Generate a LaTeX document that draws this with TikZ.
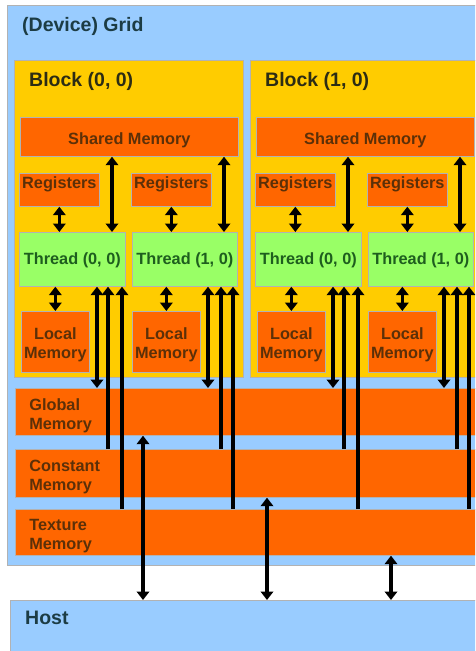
\documentclass[tikz,border=0pt]{standalone}
\usepackage{fontspec}
\setmainfont{Liberation Sans}
\usetikzlibrary{arrows.meta}

\definecolor{gridblue}{HTML}{99CCFF}
\definecolor{blockgold}{HTML}{FFCC00}
\definecolor{memorange}{HTML}{FF6600}
\definecolor{threadgreen}{HTML}{99FF66}
\definecolor{slateink}{HTML}{1C3C44}
\definecolor{blockink}{HTML}{2C2C14}
\definecolor{memink}{HTML}{5C3008}
\definecolor{threadink}{HTML}{1E5E1E}

\newcommand\TitleFont{\fontsize{19.5}{22}\selectfont\bfseries}
\newcommand\BoxFont{\fontsize{16.3}{19}\selectfont\bfseries}

\tikzset{
  panel/.style={draw=black!30, line width=0.7pt, inner sep=0pt, anchor=north west},
  gridpanel/.style={panel, fill=gridblue},
  blockpanel/.style={panel, fill=blockgold},
  membox/.style={panel, fill=memorange, font=\BoxFont, text=memink, align=center},
  sharedbox/.style={membox, minimum width=218pt, minimum height=39pt, text height=20pt, text depth=4pt},
  regbox/.style={membox, minimum width=80pt, minimum height=33pt, text height=12pt, text depth=14pt},
  localbox/.style={membox, text width=68pt, minimum height=61pt, text height=12pt, text depth=17pt},
  rowbox/.style={membox, align=left, inner xsep=14pt, text width=442pt, text height=12pt, text depth=15.5pt},
  threadbox/.style={panel, fill=threadgreen, font=\BoxFont, text=threadink, minimum height=54pt, text height=14pt, text depth=3.4pt},
  title/.style={anchor=base west, inner sep=0pt, font=\TitleFont},
  >={Triangle[width=12.5pt,length=8.5pt]},
  wire/.style={line width=3.2pt, ->},
  both/.style={line width=3.2pt, <->},
}

\begin{document}
\begin{tikzpicture}[x=1pt, y=-1pt]
\clip (0,0) rectangle (475,651);

% device grid and host
\node[gridpanel, minimum width=480pt, minimum height=560pt] (grid) at (7,5) {};
\node[title, text=slateink] (grid-title) at (22,31) {(Device) Grid};
\node[gridpanel, minimum width=480pt, minimum height=60pt] (host) at (10,600) {};
\node[title, text=slateink] (host-title) at (25,624) {Host};

% device-wide memories
\node[rowbox, minimum height=47pt] (global) at (15,388) {Global\\Memory};
\node[rowbox, minimum height=48pt] (constant) at (15,449) {Constant\\Memory};
\node[rowbox, minimum height=46pt] (texture) at (15,509) {Texture\\Memory};

% two thread blocks
\foreach \i/\ox in {0/0,1/236}{
  \begin{scope}[xshift=\ox pt]
    \node[blockpanel, minimum width=229pt, minimum height=317pt] (b\i) at (14,60) {};
    \node[title, text=blockink] (b\i-title) at (29,86) {Block (\i, 0)};
    \node[sharedbox] (b\i-sm) at (20,117) {Shared Memory};
    \node[regbox] (b\i-rA) at (19,173) {Registers};
    \node[regbox] (b\i-rB) at (131,173) {Registers};
    \node[threadbox, minimum width=106pt] (b\i-tA) at (19,232) {Thread (0, 0)};
    \node[threadbox, minimum width=105pt] (b\i-tB) at (132,232) {Thread (1, 0)};
    \node[localbox] (b\i-lA) at (21,311) {Local\\Memory};
    \node[localbox] (b\i-lB) at (132,311) {Local\\Memory};
    % columns of the vertical links
    \coordinate (b\i-sA) at (112,0);
    \coordinate (b\i-sB) at (224,0);
    \coordinate (b\i-gA) at (97,0);
    \coordinate (b\i-cA) at (108,0);
    \coordinate (b\i-xA) at (122,0);
    \coordinate (b\i-gB) at (208,0);
    \coordinate (b\i-cB) at (221,0);
    \coordinate (b\i-xB) at (233,0);
  \end{scope}
  % registers and local memory
  \draw[both] (b\i-rA.south) -- (b\i-rA.south |- b\i-tA.north);
  \draw[both] (b\i-rB.south) -- (b\i-rB.south |- b\i-tB.north);
  \draw[both] (b\i-lA.north) -- (b\i-lA.north |- b\i-tA.south);
  \draw[both] (b\i-lB.north) -- (b\i-lB.north |- b\i-tB.south);
  % shared memory
  \draw[both] (b\i-sm.south -| b\i-sA) -- (b\i-tA.north -| b\i-sA);
  \draw[both] (b\i-sm.south -| b\i-sB) -- (b\i-tB.north -| b\i-sB);
  % global, constant and texture memory
  \draw[both] (b\i-tA.south -| b\i-gA) -- (global.north -| b\i-gA);
  \draw[wire] (constant.north -| b\i-cA) -- (b\i-tA.south -| b\i-cA);
  \draw[wire] (texture.north -| b\i-xA) -- (b\i-tA.south -| b\i-xA);
  \draw[both] (b\i-tB.south -| b\i-gB) -- (global.north -| b\i-gB);
  \draw[wire] (constant.north -| b\i-cB) -- (b\i-tB.south -| b\i-cB);
  \draw[wire] (texture.north -| b\i-xB) -- (b\i-tB.south -| b\i-xB);
}

% host transfers
\coordinate (hx1) at (143,0);
\coordinate (hx2) at (267,0);
\coordinate (hx3) at (391,0);
\draw[both] (global.south -| hx1) -- (host.north -| hx1);
\draw[both] (constant.south -| hx2) -- (host.north -| hx2);
\draw[both] (texture.south -| hx3) -- (host.north -| hx3);
\end{tikzpicture}
\end{document}
